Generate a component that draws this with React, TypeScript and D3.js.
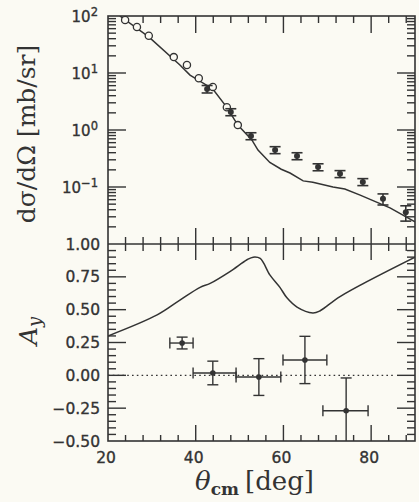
import React, { useRef, useEffect } from "react";
import * as d3 from "d3";

// upper panel: differential cross section [mb/sr]
const openAngle = [23.9, 26.6, 29.3, 35.0, 38.0, 40.7, 43.9, 47.1, 49.6];
const openXsec = [85, 64, 45, 19, 13.8, 8.1, 5.7, 2.5, 1.22];

const filledAngle = [42.6, 48.0, 52.6, 58.1, 63.1, 67.9, 72.9, 78.1, 82.7, 87.9];
const filledXsec = [5.25, 2.07, 0.785, 0.447, 0.35, 0.224, 0.17, 0.123, 0.062, 0.036];
const filledErr = [0.15, 0.14, 0.14, 0.14, 0.14, 0.14, 0.14, 0.14, 0.22, 0.3]; // relative

const curveAngle = [22.7, 29.3, 36.4, 38.7, 43.9, 47.1, 49.6, 52.8, 54.2, 56.9, 59.5, 61.5, 64.5, 66.7, 71.3, 74.0, 77.5, 84.3, 90];
const curveXsec = [100, 43, 13.8, 9.2, 5.25, 2.5, 1.22, 0.67, 0.445, 0.27, 0.205, 0.176, 0.128, 0.121, 0.1, 0.092, 0.072, 0.043, 0.0245];

// lower panel: analyzing power A_y
const ayAngle = [36.9, 43.9, 54.4, 64.9, 74.3];
const ayValue = [0.246, 0.018, -0.013, 0.117, -0.27];
const ayErr = [0.045, 0.09, 0.14, 0.18, 0.25];
const ayBinLo = [34.1, 39.4, 49.2, 59.9, 69.0];
const ayBinHi = [39.4, 49.2, 59.4, 69.9, 79.3];

const ayCurveAngle = [20, 31.2, 36.4, 41.0, 43.3, 47.8, 51.7, 53.1, 54.7, 56.9, 59.2, 60.8, 63.1, 66.7, 68.3, 72.9, 90];
const ayCurveValue = [0.3, 0.46, 0.573, 0.67, 0.7, 0.79, 0.88, 0.9, 0.89, 0.765, 0.67, 0.59, 0.52, 0.475, 0.49, 0.6, 0.9];

const xTickLabels = [20, 40, 60, 80];
const logTickLabels = [2, 1, 0, -1];
const ayTickLabels = ["1.00", "0.75", "0.50", "0.25", "0.00", "−0.25", "−0.50"];

const INK = "#333";
const BG = "#fbfaf3";

const App = () => {
  const svgRef = useRef(null);
  const width = 419;
  const height = 502;

  useEffect(() => {
    const svg = d3.select(svgRef.current);
    svg.selectAll("*").remove();

    const x = d3.scaleLinear().domain([20, 90]).range([108, 415]);
    const yTop = d3.scaleLog().domain([0.01, 100]).range([244, 16]);
    const yBot = d3.scaleLinear().domain([-0.5, 1.0]).range([441, 244]);

    const [x0, x1] = x.range();
    const topY = 16, midY = 244, botY = 441;

    svg.append("rect").attr("width", width).attr("height", height).attr("fill", BG);

    const defs = svg.append("defs");
    defs.append("clipPath").attr("id", "clipTop")
      .append("rect").attr("x", x0).attr("y", topY).attr("width", x1 - x0).attr("height", midY - topY);
    defs.append("clipPath").attr("id", "clipBot")
      .append("rect").attr("x", x0).attr("y", midY).attr("width", x1 - x0).attr("height", botY - midY);

    const tick = (g, xa, ya, xb, yb) =>
      g.append("line").attr("x1", xa).attr("y1", ya).attr("x2", xb).attr("y2", yb)
        .attr("stroke", INK).attr("stroke-width", 1.4);

    const axes = svg.append("g");

    // frames
    axes.append("rect").attr("x", x0).attr("y", topY).attr("width", x1 - x0).attr("height", botY - topY)
      .attr("fill", "none").attr("stroke", INK).attr("stroke-width", 1.6);
    tick(axes, x0, midY, x1, midY);

    // x ticks
    const xMinor = d3.range(24, 90, 4).filter((v) => v % 20 !== 0);
    const xMajor = [40, 60, 80];
    xMinor.forEach((v) => {
      tick(axes, x(v), topY, x(v), topY + 7);
      tick(axes, x(v), midY - 7, x(v), midY + 7);
      tick(axes, x(v), botY, x(v), botY - 6);
    });
    xMajor.forEach((v) => {
      tick(axes, x(v), topY, x(v), topY + 17);
      tick(axes, x(v), midY - 16, x(v), midY + 16);
      tick(axes, x(v), botY, x(v), botY - 16);
    });

    // log y ticks (both sides)
    for (let e = -2; e <= 1; e++) {
      for (let m = 1; m <= 9; m++) {
        const v = m * Math.pow(10, e);
        const len = m === 1 ? 18 : 8;
        if (m === 1 && e === -2) continue;
        tick(axes, x0, yTop(v), x0 + len, yTop(v));
        tick(axes, x1, yTop(v), x1 - len, yTop(v));
      }
    }

    // linear A_y ticks (both sides)
    d3.range(-0.45, 1.0, 0.05).forEach((v) => {
      const r = Math.round(v * 100);
      const len = r % 25 === 0 ? 18 : 8;
      tick(axes, x0, yBot(v), x0 + len, yBot(v));
      tick(axes, x1, yBot(v), x1 - len, yBot(v));
    });

    // tick labels
    const lab = svg.append("g").attr("font-family", "DejaVu Sans").attr("fill", INK)
      .attr("stroke", INK).attr("stroke-width", 0.35);

    logTickLabels.forEach((e) => {
      const t = lab.append("text").attr("x", 98).attr("y", yTop(Math.pow(10, e)) + 5.5)
        .attr("text-anchor", "end").attr("font-size", 15);
      t.append("tspan").text("10");
      t.append("tspan").attr("dy", -6).attr("font-size", 11.5).text(e < 0 ? "−" + Math.abs(e) : String(e));
    });

    ayTickLabels.forEach((s) => {
      const v = +s.replace("−", "-");
      lab.append("text").attr("x", 100).attr("y", yBot(v) + 5.5)
        .attr("text-anchor", "end").attr("font-size", 15.5).text(s);
    });

    xTickLabels.forEach((v) => {
      lab.append("text").attr("x", x(v) - 2).attr("y", 463)
        .attr("text-anchor", "middle").attr("font-size", 15.5).text(v);
    });

    // axis titles
    svg.append("text")
      .attr("transform", "translate(35,134) rotate(-90)")
      .attr("text-anchor", "middle").attr("font-family", "DejaVu Serif").attr("font-size", 25)
      .attr("fill", INK).text("dσ/dΩ [mb/sr]");

    const ay = svg.append("text")
      .attr("transform", "translate(37,331) rotate(-90)")
      .attr("text-anchor", "middle").attr("font-family", "DejaVu Serif").attr("font-size", 25)
      .attr("font-style", "italic").attr("fill", INK);
    ay.append("tspan").text("A");
    ay.append("tspan").attr("dy", 4).attr("font-size", 18).text("y");

    const xl = svg.append("text").attr("x", 195).attr("y", 490)
      .attr("font-family", "DejaVu Serif").attr("font-size", 26).attr("fill", INK);
    xl.append("tspan").attr("font-style", "italic").text("θ");
    xl.append("tspan").attr("dy", 5).attr("font-size", 17).attr("font-weight", "bold").text("cm");
    xl.append("tspan").attr("dy", -5).attr("dx", 6).text("[deg]");

    // upper panel data
    const top = svg.append("g").attr("clip-path", "url(#clipTop)");
    const line = d3.line().x((d) => x(d[0])).y((d) => yTop(d[1]));
    top.append("path")
      .attr("d", line(curveAngle.map((a, i) => [a, curveXsec[i]])))
      .attr("fill", "none").attr("stroke", INK).attr("stroke-width", 1.5);

    top.selectAll(".open")
      .data(openAngle.map((a, i) => [a, openXsec[i]]))
      .enter().append("circle")
      .attr("cx", (d) => x(d[0])).attr("cy", (d) => yTop(d[1])).attr("r", 3.6)
      .attr("fill", BG).attr("stroke", INK).attr("stroke-width", 1.3);

    filledAngle.forEach((a, i) => {
      const cx = x(a);
      const lo = yTop(filledXsec[i] * (1 - filledErr[i]));
      const hi = yTop(filledXsec[i] * (1 + filledErr[i]));
      const g = top.append("g").attr("stroke", INK).attr("stroke-width", 1.6);
      g.append("line").attr("x1", cx).attr("x2", cx).attr("y1", lo).attr("y2", hi);
      g.append("line").attr("x1", cx - 5.5).attr("x2", cx + 5.5).attr("y1", lo).attr("y2", lo);
      g.append("line").attr("x1", cx - 5.5).attr("x2", cx + 5.5).attr("y1", hi).attr("y2", hi);
      top.append("circle").attr("cx", cx).attr("cy", yTop(filledXsec[i])).attr("r", 3).attr("fill", INK);
    });

    // lower panel data
    const bot = svg.append("g").attr("clip-path", "url(#clipBot)");
    bot.append("line").attr("x1", x(20)).attr("x2", x(85.5)).attr("y1", yBot(0)).attr("y2", yBot(0))
      .attr("stroke", INK).attr("stroke-width", 1.4).attr("stroke-dasharray", "1.6,3.2");

    const line2 = d3.line().curve(d3.curveCatmullRom).x((d) => x(d[0])).y((d) => yBot(d[1]));
    bot.append("path")
      .attr("d", line2(ayCurveAngle.map((a, i) => [a, ayCurveValue[i]])))
      .attr("fill", "none").attr("stroke", INK).attr("stroke-width", 1.5);

    ayAngle.forEach((a, i) => {
      const cx = x(a), cy = yBot(ayValue[i]);
      const xa = x(ayBinLo[i]), xb = x(ayBinHi[i]);
      const ya = yBot(ayValue[i] - ayErr[i]), yb = yBot(ayValue[i] + ayErr[i]);
      const g = bot.append("g").attr("stroke", INK).attr("stroke-width", 1.4);
      g.append("line").attr("x1", xa).attr("x2", xb).attr("y1", cy).attr("y2", cy);
      g.append("line").attr("x1", xa).attr("x2", xa).attr("y1", cy - 5.5).attr("y2", cy + 5.5);
      g.append("line").attr("x1", xb).attr("x2", xb).attr("y1", cy - 5.5).attr("y2", cy + 5.5);
      g.append("line").attr("x1", cx).attr("x2", cx).attr("y1", ya).attr("y2", yb);
      g.append("line").attr("x1", cx - 5.5).attr("x2", cx + 5.5).attr("y1", ya).attr("y2", ya);
      g.append("line").attr("x1", cx - 5.5).attr("x2", cx + 5.5).attr("y1", yb).attr("y2", yb);
      bot.append("circle").attr("cx", cx).attr("cy", cy).attr("r", 2.8).attr("fill", INK);
    });
  }, []);

  return (
    <svg
      ref={svgRef}
      width={width}
      height={height}
      style={{ position: "absolute", left: 0, top: 0, display: "block" }}
    ></svg>
  );
};

export default App;
